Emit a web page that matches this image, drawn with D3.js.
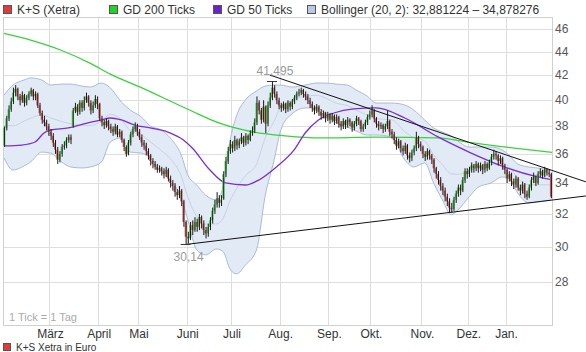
<!DOCTYPE html>
<html>
<head>
<meta charset="utf-8">
<script src="https://cdn.jsdelivr.net/npm/d3@7"></script>
<style>
  body { margin: 0; background: #fff; }
  svg { display: block; font-family: "Liberation Sans", Arial, sans-serif; }
</style>
</head>
<body>
<svg id="chart"></svg>
<script>
// daily candles, one per trading day
const opens = [
  36.6,37.9,38.6,39.3,39.9,40.6,40.9,40.3,40.0,40.4,
  39.8,40.2,40.5,40.8,40.3,40.5,39.6,39.0,38.5,38.3,
  38.0,37.6,37.3,36.8,36.3,35.6,36.0,36.5,36.6,37.0,
  37.2,38.0,39.2,39.5,39.1,39.8,39.4,40.0,40.3,39.8,
  39.2,39.6,40.1,39.7,38.6,38.3,38.1,38.4,38.0,37.8,
  37.6,38.0,37.4,37.6,37.0,36.5,36.0,36.8,37.4,37.8,
  38.1,37.6,37.2,36.8,36.6,36.2,35.9,35.5,35.3,35.1,
  34.9,35.0,34.8,34.6,34.9,34.3,34.0,33.8,33.4,33.2,
  33.5,32.8,31.5,30.6,30.5,31.3,31.0,31.5,31.2,31.8,
  31.4,31.0,30.8,31.2,31.6,32.2,32.6,33.0,32.7,33.0,
  34.6,35.5,36.2,36.7,36.4,37.0,36.6,36.9,37.2,36.8,
  37.3,37.0,37.5,37.7,38.3,39.8,39.2,38.5,39.5,38.2,
  39.6,40.2,41.0,40.5,40.0,39.6,39.4,39.7,39.3,39.8,
  39.5,39.9,40.2,40.5,40.6,40.8,40.5,40.3,40.0,39.7,
  39.4,39.2,39.5,39.1,38.8,39.0,38.6,38.9,38.5,38.8,
  38.4,38.7,38.2,38.0,38.4,38.1,38.5,38.3,37.9,38.2,
  38.6,38.4,37.8,38.0,38.3,38.7,38.9,39.2,38.6,38.2,
  38.0,38.1,37.8,38.0,38.4,37.6,37.4,37.0,36.6,36.9,
  36.4,36.2,36.6,35.9,35.7,36.1,36.4,37.2,36.7,36.5,
  36.0,35.8,36.2,35.9,35.6,35.0,34.6,34.2,33.8,33.5,
  33.1,32.8,32.4,32.3,32.9,33.3,33.7,33.5,34.2,34.8,
  34.6,34.9,35.2,35.0,35.3,35.0,35.2,34.9,35.3,35.0,
  35.4,35.8,36.0,35.9,35.5,35.7,35.2,34.9,34.3,34.6,
  34.1,33.9,34.3,33.7,33.5,33.9,33.3,33.1,33.7,34.2,
  34.4,34.0,34.6,34.8,34.5,34.9,34.7,34.6
];
const highs = [
  38.0,38.8,39.6,40.2,41.0,41.2,41.0,40.5,40.7,40.5,
  40.4,40.7,41.0,40.9,40.7,40.6,39.8,39.2,38.8,38.5,
  38.2,37.8,37.5,37.0,36.5,36.2,36.7,36.9,37.2,37.4,
  37.4,39.4,39.8,39.7,40.0,40.0,40.3,40.6,40.4,40.0,
  39.9,40.4,40.3,39.8,38.8,38.5,38.6,38.5,38.2,38.0,
  38.2,38.1,37.8,37.7,37.1,36.6,37.0,37.6,38.0,38.3,
  38.2,37.8,37.4,37.0,36.8,36.4,36.0,35.7,35.5,35.3,
  35.2,35.1,35.0,35.1,35.0,34.5,34.2,34.0,33.6,33.8,
  33.6,32.9,31.6,30.9,31.5,31.6,31.8,31.7,32.0,31.9,
  31.6,31.2,31.4,31.8,32.4,32.9,33.4,33.2,33.2,34.8,
  35.8,36.5,37.0,36.9,37.3,37.1,37.1,37.5,37.3,37.5,
  37.4,37.7,38.0,38.6,40.3,40.0,39.4,40.0,39.6,39.9,
  40.6,41.495,41.2,40.7,40.2,39.8,39.9,39.8,40.0,39.9,
  40.1,40.4,40.7,40.9,41.0,40.9,40.7,40.5,40.2,39.9,
  39.6,39.7,39.6,39.3,39.2,39.1,39.1,39.0,39.0,38.9,
  38.9,38.8,38.4,38.6,38.5,38.7,38.6,38.4,38.4,38.8,
  38.7,38.5,38.2,38.5,38.9,39.2,39.6,39.3,38.7,38.4,
  38.3,38.2,38.2,39.2,38.5,37.8,37.6,37.2,37.1,37.0,
  36.6,36.8,36.7,36.1,36.3,36.6,37.6,37.3,36.9,36.6,
  36.2,36.4,36.3,36.0,35.7,35.1,34.8,34.4,34.0,33.7,
  33.3,33.0,32.7,33.1,33.5,33.9,33.9,34.4,35.0,35.0,
  35.1,35.4,35.3,35.5,35.4,35.4,35.3,35.5,35.4,35.6,
  36.0,36.3,36.2,36.0,35.9,35.8,35.3,35.0,34.8,34.7,
  34.3,34.5,34.4,33.9,34.1,34.0,33.5,33.9,34.4,34.7,
  34.5,34.8,35.0,34.9,35.1,35.0,34.9,34.7
];
const lows = [
  36.5,37.7,38.4,39.1,39.7,40.3,40.0,39.6,39.8,39.5,
  39.6,40.0,40.3,40.0,40.0,39.4,38.8,38.2,38.0,37.7,
  37.3,37.0,36.5,36.0,35.3,35.4,35.8,36.3,36.4,36.8,
  36.7,37.9,39.0,38.8,38.9,39.1,39.2,39.8,39.5,38.9,
  39.0,39.4,39.3,38.4,38.0,37.8,37.9,37.7,37.5,37.3,
  37.4,37.2,37.2,36.8,36.2,35.8,35.9,36.6,37.2,37.6,
  37.3,37.0,36.5,36.3,35.9,35.6,35.2,35.0,34.9,34.7,
  34.7,34.5,34.3,34.4,34.1,33.7,33.5,33.1,32.9,33.0,
  32.5,31.2,30.14,30.2,30.4,30.7,30.9,30.9,31.0,31.1,
  30.7,30.5,30.6,31.0,31.4,32.0,32.4,32.4,32.5,32.9,
  34.4,35.3,36.0,36.1,36.2,36.3,36.4,36.7,36.5,36.6,
  36.7,36.9,37.3,37.5,38.1,38.9,38.2,38.3,37.5,38.0,
  39.4,40.0,40.2,39.7,39.3,39.1,39.2,39.0,39.1,39.2,
  39.3,39.7,40.0,40.3,40.4,40.2,40.0,39.7,39.4,39.1,
  38.9,39.0,38.8,38.5,38.6,38.3,38.4,38.2,38.3,38.1,
  38.2,37.9,37.7,37.8,37.8,37.9,38.0,37.6,37.7,38.0,
  38.1,37.6,37.6,37.8,38.1,38.5,38.7,38.3,37.9,37.7,
  37.8,37.5,37.6,37.8,37.3,37.1,36.7,36.3,36.4,36.1,
  35.9,36.0,35.6,35.4,35.5,35.9,36.2,36.4,36.2,35.7,
  35.5,35.6,35.6,35.3,34.7,34.3,33.9,33.5,33.2,32.8,
  32.5,32.1,32.1,32.2,32.7,33.1,33.2,33.4,34.0,34.3,
  34.4,34.7,34.7,34.8,34.7,34.8,34.6,34.7,34.8,34.9,
  35.2,35.6,35.6,35.2,35.3,34.9,34.6,34.0,34.1,33.8,
  33.6,33.7,33.5,33.2,33.3,33.0,32.9,33.0,33.5,34.0,
  33.8,33.9,34.4,34.3,34.4,34.5,34.4,33.0
];
const closes = [
  37.9,38.6,39.3,39.9,40.6,40.9,40.3,40.0,40.4,39.8,
  40.2,40.5,40.8,40.3,40.5,39.6,39.0,38.5,38.3,38.0,
  37.6,37.3,36.8,36.3,35.6,36.0,36.5,36.6,37.0,37.2,
  37.0,39.2,39.5,39.1,39.8,39.4,40.0,40.3,39.8,39.2,
  39.6,40.1,39.7,38.6,38.3,38.1,38.4,38.0,37.8,37.6,
  38.0,37.4,37.6,37.0,36.5,36.0,36.8,37.4,37.8,38.1,
  37.6,37.2,36.8,36.6,36.2,35.9,35.5,35.3,35.1,34.9,
  35.0,34.8,34.6,34.9,34.3,34.0,33.8,33.4,33.2,33.5,
  32.8,31.5,30.6,30.5,31.3,31.0,31.5,31.2,31.8,31.4,
  31.0,30.8,31.2,31.6,32.2,32.6,33.0,32.7,32.9,34.6,
  35.5,36.2,36.7,36.4,37.0,36.6,36.9,37.2,36.8,37.3,
  37.0,37.5,37.7,38.3,39.8,39.2,38.5,39.5,38.2,39.6,
  40.2,41.0,40.5,40.0,39.6,39.4,39.7,39.3,39.8,39.5,
  39.9,40.2,40.5,40.6,40.8,40.5,40.3,40.0,39.7,39.4,
  39.2,39.5,39.1,38.8,39.0,38.6,38.9,38.5,38.8,38.4,
  38.7,38.2,38.0,38.4,38.1,38.5,38.3,37.9,38.2,38.6,
  38.4,37.8,38.0,38.3,38.7,38.9,39.2,38.6,38.2,38.0,
  38.1,37.8,38.0,38.4,37.6,37.4,37.0,36.6,36.9,36.4,
  36.2,36.6,35.9,35.7,36.1,36.4,37.2,36.7,36.5,36.0,
  35.8,36.2,35.9,35.6,35.0,34.6,34.2,33.8,33.5,33.1,
  32.8,32.4,32.3,32.9,33.3,33.7,33.5,34.2,34.8,34.6,
  34.9,35.2,35.0,35.3,35.0,35.2,34.9,35.3,35.0,35.4,
  35.8,36.0,35.9,35.5,35.7,35.2,34.9,34.3,34.6,34.1,
  33.9,34.3,33.7,33.5,33.9,33.3,33.1,33.7,34.2,34.4,
  34.0,34.6,34.8,34.5,34.9,34.7,34.6,33.1
];

// moving averages at these trading days
const gd200Days = [0,12,26,39,48,62,83,98,112,127,143,168,196,211,226,248];
const gd200Vals = [45.6,45.0,44.1,43.0,42.1,41.0,39.3,38.2,37.6,37.3,37.15,37.2,37.15,36.8,36.5,36.1];

const gd50Days = [0,8,14,18,21,29,36,44,48,53,59,66,74,81,85,93,100,109,115,123,131,136,142,149,158,168,181,196,211,226,241,248];
const gd50Vals = [36.57,36.63,36.85,37.51,37.73,37.88,38.18,38.48,38.63,38.48,38.10,37.88,37.58,37.00,36.42,34.88,34.01,33.87,34.20,35.09,36.28,37.51,38.48,39.01,39.32,39.40,38.63,37.22,36.06,35.09,34.41,34.20];

// Bollinger (20, 2)
const bollDays = [0,4,9,12,17,21,26,30,35,39,44,48,53,57,62,66,71,75,80,83,87,91,96,99,102,105,109,114,118,122,125,130,136,141,145,150,155,159,164,168,175,181,185,190,194,198,202,205,210,214,220,225,228,232,237,241,247];
const bollUpper = [40.41,41.21,41.62,41.79,41.62,41.21,41.29,41.29,41.13,41.05,41.37,40.97,39.86,39.24,38.71,38.03,37.73,37.15,35.93,34.54,33.87,33.21,32.89,33.80,36.90,38.80,40.02,40.73,41.13,41.21,41.21,41.05,41.21,41.37,41.37,41.29,41.21,40.81,40.33,39.78,39.78,39.63,39.24,38.48,37.88,37.58,37.29,36.93,36.49,36.49,36.49,36.28,35.93,35.30,35.09,35.02,34.878];
const bollLower = [35.72,34.88,35.16,35.44,36.13,36.06,35.44,35.09,35.02,35.09,35.44,36.86,37.15,36.13,36.06,35.72,34.74,34.21,33.02,31.62,29.82,29.53,29.88,29.71,28.73,28.45,28.95,29.82,33.21,35.58,37.73,38.94,39.40,39.40,39.01,38.25,37.95,37.66,37.36,37.36,37.22,35.58,35.09,35.37,34.01,32.89,31.94,32.25,33.08,33.71,34.01,34.41,34.34,33.34,32.70,32.76,32.881];

// trend lines: [day, price] end points
const resistanceLine = [[120.5, 42.03], [263.3, 34.08]];
const supportLine = [[82.5, 30.14], [263.3, 33.15]];

const monthLabels = ["März","April","Mai","Juni","Juli","Aug.","Sep.","Okt.","Nov.","Dez.","Jan."];
const monthStarts = [21,43,61,83,103,125,147,166,189,210,227];
const yTicks = [28,30,32,34,36,38,40,42,44,46];

const extremes = [
  { day: 121, value: 41.495, label: "41,495", pos: "top" },
  { day: 82, value: 30.14, label: "30,14", pos: "bottom" }
];

const legendItems = [
  { label: "K+S (Xetra)", color: "#e23a3a", x: 3 },
  { label: "GD 200 Ticks", color: "#22d422", x: 109 },
  { label: "GD 50 Ticks", color: "#6a22cc", x: 213 },
  { label: "Bollinger (20, 2): 32,881224 \u2013 34,878276", color: "#b9c9e6", x: 307 }
];

const width = 586, height = 352;
const plot = { left: 3, right: 552, top: 17, bottom: 325 };

const svg = d3.select("#chart").attr("width", width).attr("height", height);

const nDays = closes.length;
const x = d3.scaleLinear().domain([0, nDays]).range([plot.left, plot.right]);
const y = d3.scaleLog().domain([28, 46]).range([282, 29]);

svg.append("defs").append("clipPath").attr("id", "plotClip")
  .append("rect")
  .attr("x", plot.left).attr("y", plot.top)
  .attr("width", plot.right - plot.left).attr("height", plot.bottom - plot.top);

// grid
const grid = svg.append("g").attr("stroke", "#dedede").attr("stroke-width", 1).attr("shape-rendering", "crispEdges");
grid.selectAll(".hg").data(yTicks).join("line")
  .attr("x1", plot.left).attr("x2", plot.right)
  .attr("y1", d => Math.round(y(d)) + 0.5).attr("y2", d => Math.round(y(d)) + 0.5);
grid.selectAll(".vg").data(monthStarts).join("line")
  .attr("x1", d => Math.round(x(d)) + 0.5).attr("x2", d => Math.round(x(d)) + 0.5)
  .attr("y1", plot.top).attr("y2", plot.bottom);

svg.append("rect")
  .attr("x", plot.left + 0.5).attr("y", plot.top + 0.5)
  .attr("width", plot.right - plot.left).attr("height", plot.bottom - plot.top)
  .attr("fill", "none").attr("stroke", "#d0d0d0").attr("shape-rendering", "crispEdges");

const g = svg.append("g").attr("clip-path", "url(#plotClip)");

// Bollinger band
const boll = bollDays.map((d, i) => ({ d, u: bollUpper[i], l: bollLower[i] }));
const curve = d3.curveMonotoneX;
g.append("path").datum(boll)
  .attr("fill", "#e2eaf6")
  .attr("d", d3.area().curve(curve).x(p => x(p.d + 0.5)).y0(p => y(p.l)).y1(p => y(p.u)));
["u", "l"].forEach(k => {
  g.append("path").datum(boll)
    .attr("fill", "none").attr("stroke", "#a3b3d3").attr("stroke-width", 0.9)
    .attr("d", d3.line().curve(curve).x(p => x(p.d + 0.5)).y(p => y(p[k])));
});
g.append("path").datum(boll)
  .attr("fill", "none").attr("stroke", "#c2cee2").attr("stroke-width", 0.9)
  .attr("d", d3.line().curve(curve).x(p => x(p.d + 0.5)).y(p => y((p.u + p.l) / 2)));

// moving averages
g.append("path").datum(gd200Days.map((d, i) => [d, gd200Vals[i]]))
  .attr("fill", "none").attr("stroke", "#3ad23a").attr("stroke-width", 1.3)
  .attr("d", d3.line().curve(curve).x(p => x(p[0] + 0.5)).y(p => y(p[1])));
g.append("path").datum(gd50Days.map((d, i) => [d, gd50Vals[i]]))
  .attr("fill", "none").attr("stroke", "#7a2fd6").attr("stroke-width", 1.3)
  .attr("d", d3.line().curve(curve).x(p => x(p[0] + 0.5)).y(p => y(p[1])));

// candles
const candles = closes.map((c, i) => ({ i, o: opens[i], h: highs[i], l: lows[i], c }));
const cg = g.append("g");
cg.selectAll("rect").data(candles).join("rect")
  .attr("x", d => x(d.i + 0.5) - 1)
  .attr("width", 2)
  .attr("y", d => y(Math.max(d.o, d.c)))
  .attr("height", d => Math.max(1, Math.abs(y(d.o) - y(d.c))))
  .attr("fill", d => d.c >= d.o ? "#4fd44f" : "#e25f5f");
cg.selectAll("line").data(candles).join("line")
  .attr("x1", d => x(d.i + 0.5) + 0.5).attr("x2", d => x(d.i + 0.5) + 0.5)
  .attr("y1", d => y(d.h)).attr("y2", d => y(d.l))
  .attr("stroke", "#1a1a1a").attr("stroke-width", 1);

// trend lines
[resistanceLine, supportLine].forEach(line => {
  svg.append("line")
    .attr("x1", x(line[0][0])).attr("y1", y(line[0][1]))
    .attr("x2", x(line[1][0])).attr("y2", y(line[1][1]))
    .attr("stroke", "#111").attr("stroke-width", 1);
});

// high / low markers
extremes.forEach(e => {
  const cx = x(e.day + 0.5);
  svg.append("line")
    .attr("x1", cx - 5).attr("x2", cx + 5)
    .attr("y1", y(e.value)).attr("y2", y(e.value))
    .attr("stroke", "#333").attr("stroke-width", 1);
  svg.append("text")
    .attr("x", cx + 3)
    .attr("y", e.pos === "top" ? y(e.value) - 7 : y(e.value) + 17)
    .attr("text-anchor", "middle")
    .attr("font-size", 12).attr("fill", "#9a9a9a")
    .text(e.label);
});

// y axis labels
svg.selectAll(".ylab").data(yTicks).join("text")
  .attr("x", 555).attr("y", d => y(d) + 4)
  .attr("font-size", 12).attr("fill", "#555")
  .text(d => d);

// x axis labels
svg.selectAll(".xlab").data(monthStarts).join("text")
  .attr("x", d => x(d) + 1).attr("y", 338)
  .attr("text-anchor", "middle")
  .attr("font-size", 12).attr("fill", "#333")
  .text((d, i) => monthLabels[i]);

svg.append("text")
  .attr("x", 9).attr("y", 321)
  .attr("font-size", 11).attr("fill", "#aaa")
  .text("1 Tick = 1 Tag");

// legend
const leg = svg.append("g");
legendItems.forEach(it => {
  leg.append("rect")
    .attr("x", it.x + 0.5).attr("y", 5.5).attr("width", 8).attr("height", 8)
    .attr("fill", it.color).attr("stroke", "#555");
  leg.append("text")
    .attr("x", it.x + 14).attr("y", 14)
    .attr("font-size", 12).attr("fill", "#333")
    .text(it.label);
});

// bottom legend line
svg.append("rect")
  .attr("x", 3.5).attr("y", 343.5).attr("width", 7).attr("height", 7)
  .attr("fill", "#e23a3a").attr("stroke", "#555");
svg.append("text")
  .attr("x", 16).attr("y", 351)
  .attr("font-size", 10).attr("fill", "#333")
  .text("K+S Xetra in Euro");
</script>
</body>
</html>
